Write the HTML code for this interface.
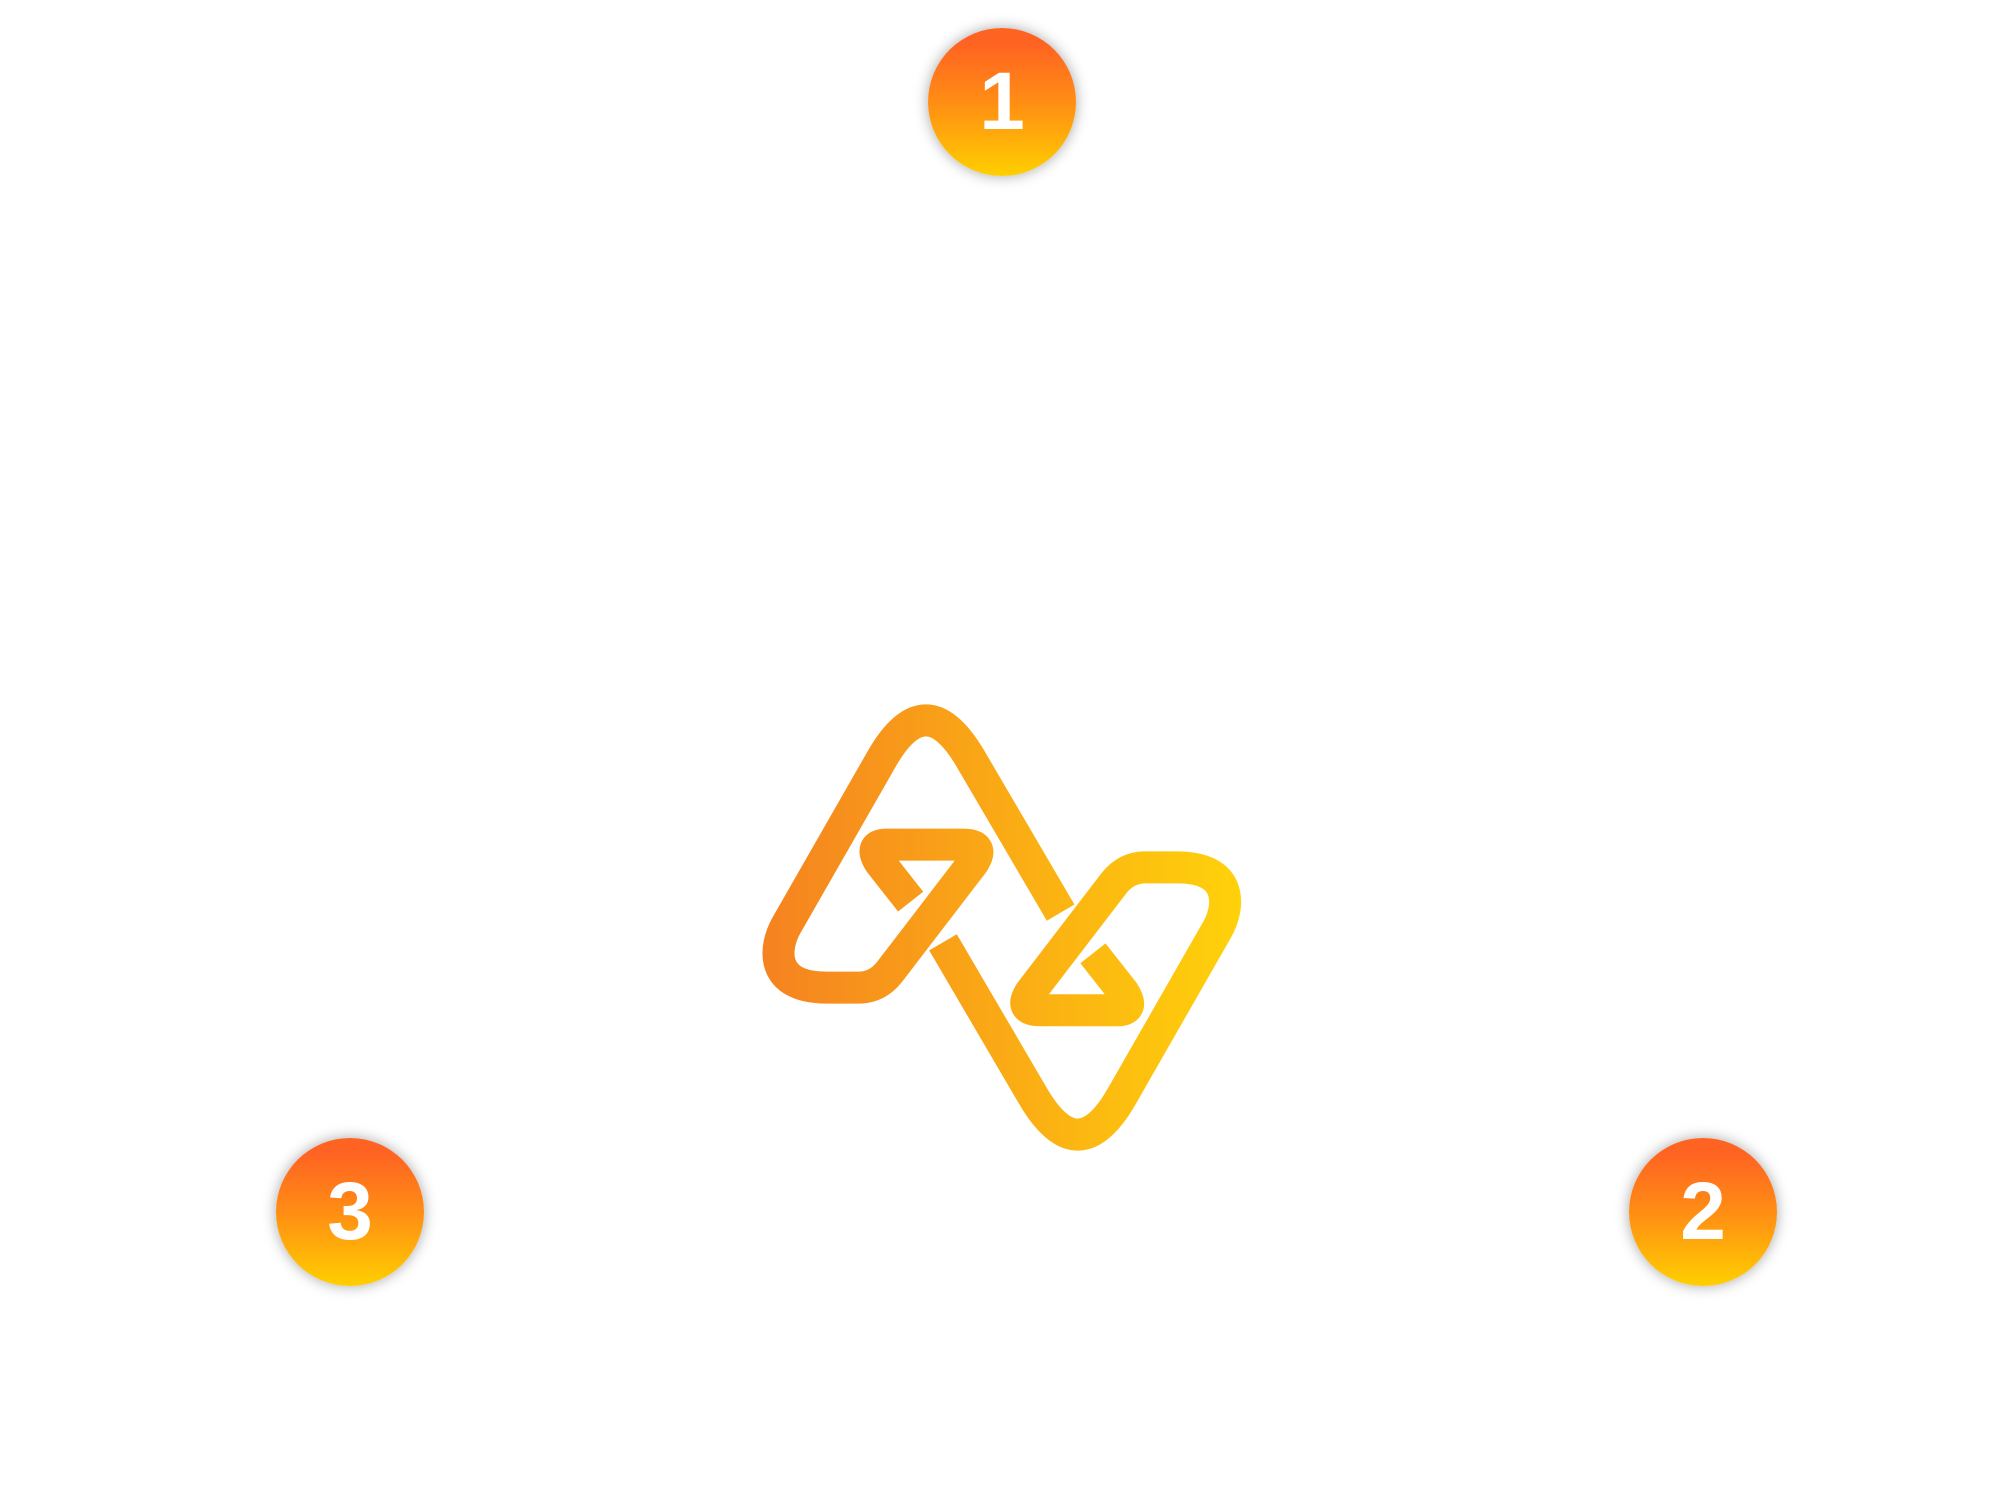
<!DOCTYPE html>
<html><head><meta charset="utf-8"><style>
html,body{margin:0;padding:0;background:#fff;width:2002px;height:1507px;overflow:hidden}
.c{position:absolute;width:148px;height:148px;border-radius:50%;background:linear-gradient(180deg,#ff6322 10%,#ff8d14 50%,#ffcf00 100%);box-shadow:0 0 14px rgba(0,0,0,0.35);color:#fff;font:bold 82px/148px "Liberation Sans",sans-serif;text-align:center}
</style></head><body>
<div class="c" style="left:928px;top:28px">1</div>
<div class="c" style="left:1629px;top:1138px">2</div>
<div class="c" style="left:276px;top:1138px">3</div>
<svg width="2002" height="1507" style="position:absolute;left:0;top:0">
<defs><linearGradient id="g" gradientUnits="userSpaceOnUse" x1="68" y1="0" x2="1505" y2="0">
<stop offset="0" stop-color="#f58220"/><stop offset="1" stop-color="#ffd20a"/></linearGradient></defs>
<g transform="translate(740,680) scale(0.3333)" fill="none" stroke="url(#g)" stroke-width="96" stroke-linejoin="round">
<path d="M962,698 L692,237 Q557,5 425,237 L140,735 C100,805 90,923 260,923 L355,923 Q410,923 447,878 L700,548 Q735,494 670,494 L440,494 Q385,494 420,548 L512,665"/>
<path d="M609,787 L879,1248 Q1014,1480 1146,1248 L1431,750 C1471,680 1481,562 1311,562 L1216,562 Q1161,562 1124,607 L871,937 Q836,991 901,991 L1131,991 Q1186,991 1151,937 L1059,820"/>
</g></svg>
</body></html>
